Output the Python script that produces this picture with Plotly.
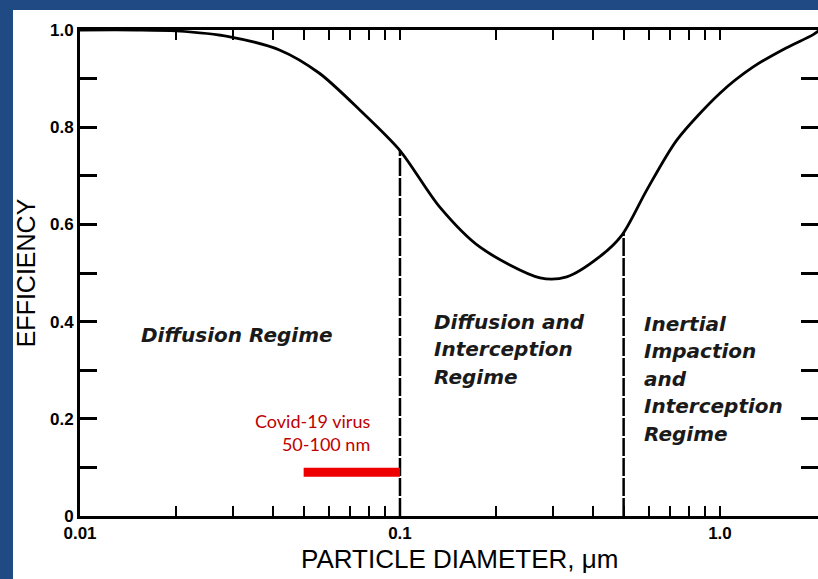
import numpy as np
import plotly.graph_objects as go

# ---- data ----
diameter_um = [0.01, 0.015, 0.02, 0.0294, 0.042, 0.056, 0.075, 0.1, 0.133, 0.178,
               0.274, 0.332, 0.42, 0.494, 0.591, 0.734, 1.0, 1.27, 1.61, 1.95, 2.05]
efficiency = [1.0, 1.0, 0.998, 0.986, 0.959, 0.911, 0.835, 0.752, 0.636, 0.553,
              0.490, 0.492, 0.533, 0.578, 0.671, 0.774, 0.870, 0.924, 0.963, 0.99, 1.0]

regime_boundaries_um = [0.1, 0.5]
covid_range_um = [0.05, 0.1]
covid_level = 0.09

y_tick_vals = [0.0, 0.1, 0.2, 0.3, 0.4, 0.5, 0.6, 0.7, 0.8, 0.9, 1.0]
y_tick_text = ["0", "", "0.2", "", "0.4", "", "0.6", "", "0.8", "", "1.0"]
x_tick_vals = [0.01, 0.02, 0.03, 0.04, 0.05, 0.06, 0.07, 0.08, 0.09,
               0.1, 0.2, 0.3, 0.4, 0.5, 0.6, 0.7, 0.8, 0.9, 1.0]
x_tick_text = ["0.01", "", "", "", "", "", "", "", "",
               "0.1", "", "", "", "", "", "", "", "", "1.0"]

regime_labels = [
    (0.031, 0.372, ["Diffusion Regime"]),
    (0.126, 0.40, ["Diffusion and", "Interception", "Regime"]),
    (0.570, 0.395, ["Inertial", "Impaction", "and", "Interception", "Regime"]),
]
covid_label = ["Covid-19 virus", "50-100 nm"]

BLUE = "#1f4a84"
LINE_SPACING = 0.0565  # in efficiency units (~27.5 px)

fig = go.Figure()

# white page panel behind the chart
fig.add_shape(type="rect", xref="paper", yref="paper",
              x0=-0.0908, x1=1.1, y0=-0.2, y1=1.0412,
              fillcolor="white", line=dict(width=0), layer="below")

# efficiency curve
fig.add_trace(go.Scatter(x=diameter_um, y=efficiency, mode="lines",
                         line=dict(color="black", width=2.8, shape="spline", smoothing=0.8),
                         hoverinfo="skip", showlegend=False))

# regime boundary dashed lines (top end on the curve)
logd = np.log10(diameter_um)
for b in regime_boundaries_um:
    top = float(np.interp(np.log10(b), logd, efficiency))
    fig.add_trace(go.Scatter(x=[b, b], y=[0, top], mode="lines",
                             line=dict(color="black", width=2.5, dash="18px,2px"),
                             hoverinfo="skip", showlegend=False))

# covid size range bar
fig.add_trace(go.Scatter(x=covid_range_um, y=[covid_level, covid_level], mode="lines",
                         line=dict(color="#ee0000", width=9),
                         hoverinfo="skip", showlegend=False))

# regime text
for x, ytop, lines in regime_labels:
    for i, t in enumerate(lines):
        fig.add_annotation(x=np.log10(x), y=ytop - i * LINE_SPACING, xref="x", yref="y",
                           text=t, showarrow=False, xanchor="left" if len(lines) > 1 else "center",
                           yanchor="middle",
                           font=dict(family="DejaVu Sans", size=20, color="#1a1a1a",
                                     style="italic", weight="bold"))

# covid text
fig.add_annotation(x=np.log10(0.0818), y=0.171, xref="x", yref="y",
                   text="<br>".join(covid_label), showarrow=False,
                   xanchor="right", yanchor="middle", align="right",
                   font=dict(family="Lato", size=18, color="#c00000"))

# x-axis title
fig.add_annotation(x=0.514, y=-0.088, xref="paper", yref="paper",
                   text="PARTICLE DIAMETER, μm", showarrow=False,
                   xanchor="center", yanchor="middle",
                   font=dict(family="Liberation Sans", size=26, color="black"))

fig.update_xaxes(type="log", range=[-2, np.log10(2.025)],
                 tickvals=x_tick_vals, ticktext=x_tick_text,
                 ticks="inside", ticklen=10, tickwidth=2, tickcolor="black",
                 showline=True, linewidth=3, linecolor="black", mirror="ticks",
                 showgrid=False, zeroline=False,
                 tickfont=dict(family="Liberation Sans", size=17, color="black", weight="bold"))
fig.update_yaxes(range=[0, 1.0],
                 tickvals=y_tick_vals, ticktext=y_tick_text,
                 ticks="inside", ticklen=17, tickwidth=3, tickcolor="black",
                 showline=True, linewidth=3, linecolor="black", mirror="ticks",
                 showgrid=False, zeroline=False,
                 tickfont=dict(family="Liberation Sans", size=17, color="black", weight="bold"),
                 title=dict(text="EFFICIENCY", standoff=8,
                            font=dict(family="Liberation Sans", size=25, color="black")))

fig.update_layout(width=818, height=579,
                  margin=dict(l=80, r=0, t=30, b=63, autoexpand=False),
                  paper_bgcolor=BLUE, plot_bgcolor="white",
                  showlegend=False)

fig.write_html("out.html", config={"displayModeBar": False},
               post_script="document.body.style.margin='0';"
                           "document.body.style.background='" + BLUE + "';")
